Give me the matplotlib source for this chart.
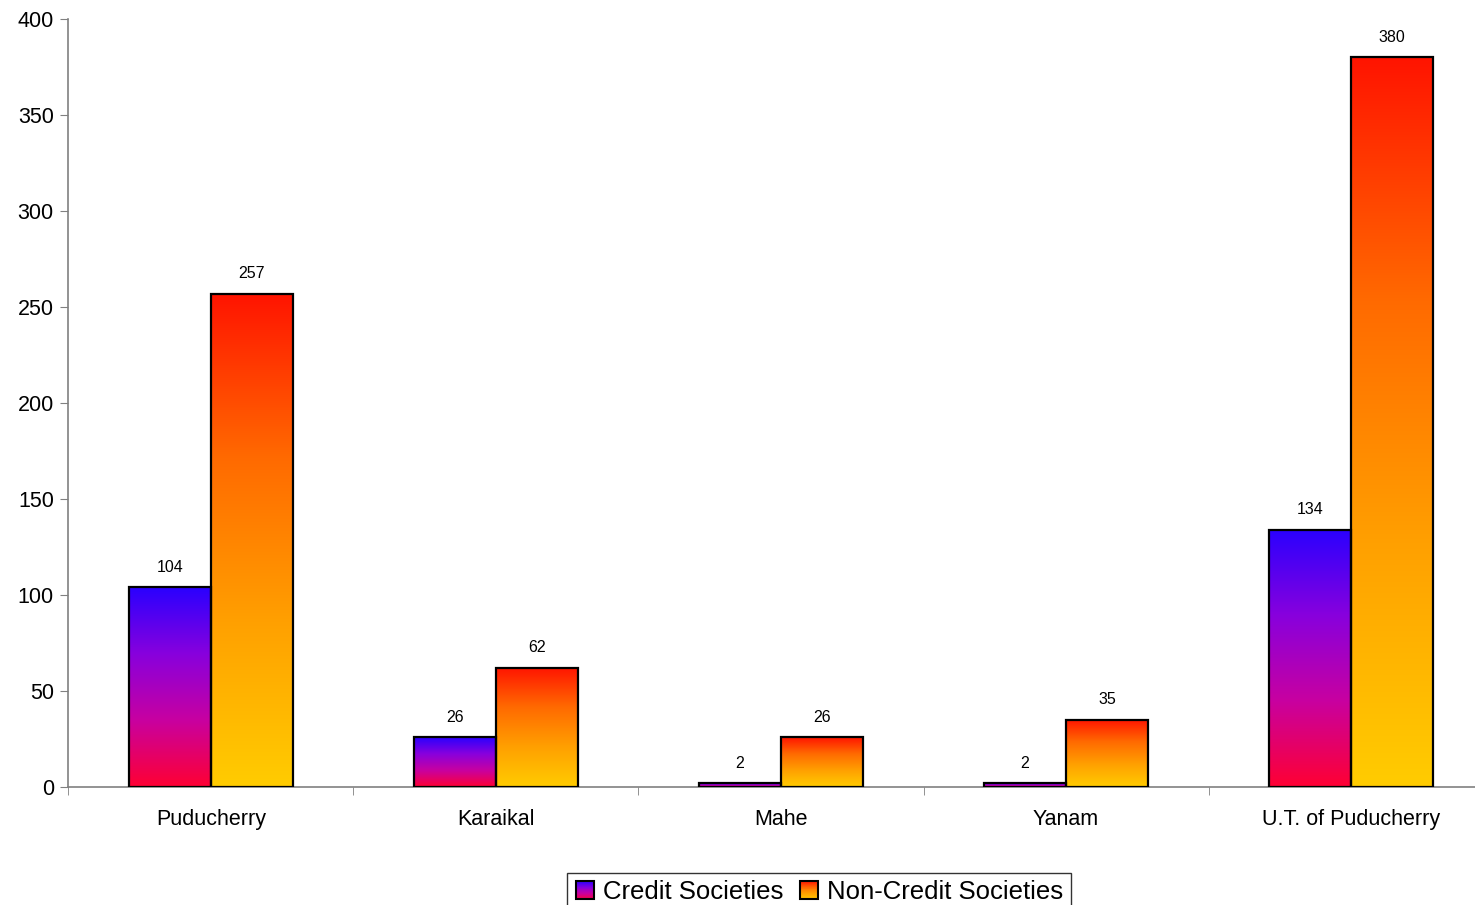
import numpy as np
import matplotlib.pyplot as plt
from matplotlib.colors import LinearSegmentedColormap
from matplotlib.patches import Rectangle
from matplotlib.legend_handler import HandlerBase

plt.rcParams['font.family'] = ['Liberation Sans', 'DejaVu Sans']

regions = ['Puducherry', 'Karaikal', 'Mahe', 'Yanam', 'U.T. of Puducherry']
credit = [104, 26, 2, 2, 134]
non_credit = [257, 62, 26, 35, 380]
series_names = ['Credit Societies', 'Non-Credit Societies']

# gradients run bottom -> top
cm_credit = LinearSegmentedColormap.from_list(
    'credit', ['#ff0033', '#c800a0', '#8800dd', '#2a00ff'])
cm_noncredit = LinearSegmentedColormap.from_list(
    'noncredit', ['#ffcc00', '#ffa000', '#ff6a00', '#ff1400'])

fig = plt.figure(figsize=(14.75, 9.05), dpi=100)
ax = fig.add_axes([0.0464, 0.1304, 0.96, 0.8486])

w = 0.288
grad = np.linspace(0, 1, 256).reshape(-1, 1)


def gradient_bar(x0, h, cmap):
    ax.imshow(grad, extent=[x0, x0 + w, 0, h], origin='lower', cmap=cmap,
              aspect='auto', zorder=2, interpolation='bilinear')
    ax.add_patch(Rectangle((x0, 0), w, h, facecolor='none', edgecolor='black',
                           linewidth=1.6, zorder=3))
    ax.annotate(f'{h}', (x0 + w / 2, h), xytext=(0, 9), textcoords='offset points',
                ha='center', va='bottom', fontsize=11.5)


for i in range(len(regions)):
    gradient_bar(i - w, credit[i], cm_credit)
    gradient_bar(i, non_credit[i], cm_noncredit)

ax.set_yticks(range(0, 401, 50))
ax.set_xticks(range(len(regions)))
ax.set_xticklabels(regions)
ax.set_xticks(np.arange(-0.5, 4.6, 1), minor=True)
ax.set_xlim(-0.5, 4.468)
ax.set_ylim(0, 400)
ax.tick_params(axis='x', which='major', length=0, pad=15.5, labelsize=15.5)
ax.tick_params(axis='x', which='minor', length=6, color='#808080')
ax.tick_params(axis='y', length=6, color='#808080', pad=4.5, labelsize=15.5)
for s in ['top', 'right']:
    ax.spines[s].set_visible(False)
for s in ['left', 'bottom']:
    ax.spines[s].set_color('#808080')
    ax.spines[s].set_linewidth(1.2)


class GradientHandler(HandlerBase):
    def __init__(self, cmap):
        super().__init__()
        self.cmap = cmap

    def create_artists(self, legend, orig_handle, xdescent, ydescent,
                       width, height, fontsize, trans):
        side = height * 1.0
        x0 = -xdescent + (width - side) / 2
        y0 = -ydescent
        n = 20
        artists = []
        for k in range(n):
            artists.append(Rectangle((x0, y0 + side * k / n), side, side / n + 0.3,
                                     facecolor=self.cmap((k + 0.5) / n),
                                     edgecolor='none', transform=trans))
        artists.append(Rectangle((x0, y0), side, side, facecolor='none',
                                 edgecolor='black', linewidth=1.5, transform=trans))
        return artists


h1 = Rectangle((0, 0), 1, 1)
h2 = Rectangle((0, 0), 1, 1)
leg = fig.legend([h1, h2], series_names, loc='lower center',
                 bbox_to_anchor=(0.555, -0.022), ncol=2, fontsize=18.5,
                 frameon=True, fancybox=False, edgecolor='black',
                 handlelength=0.8, handletextpad=0.3, columnspacing=0.6,
                 borderpad=0.3,
                 handler_map={h1: GradientHandler(cm_credit),
                              h2: GradientHandler(cm_noncredit)})
leg.get_frame().set_linewidth(1.0)

fig.savefig('out.png', dpi=100)
